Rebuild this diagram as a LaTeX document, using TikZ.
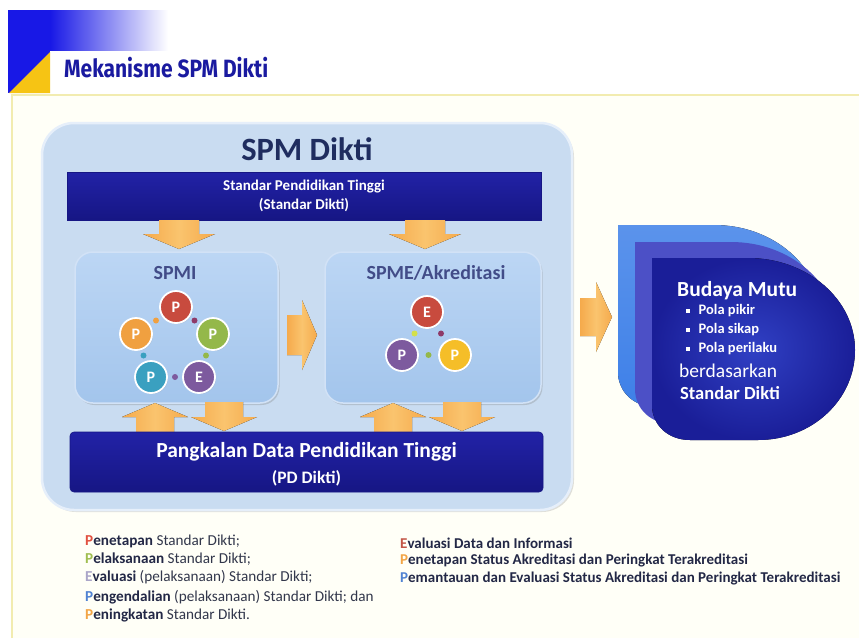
\documentclass[tikz,border=0pt]{standalone}
\usepackage{fontspec}
\setmainfont{Carlito}
\newfontfamily\titlefont{Fira Sans}[FakeStretch=0.84]
\usetikzlibrary{shadows}
\definecolor{hblue}{RGB}{24,24,230}
\definecolor{hyellow}{RGB}{246,196,20}
\definecolor{framey}{RGB}{242,236,176}
\definecolor{cream}{RGB}{255,255,247}
\definecolor{titleblue}{RGB}{26,26,160}
\definecolor{mainfill}{RGB}{201,220,241}
\definecolor{mainedge}{RGB}{230,239,250}
\definecolor{navy}{RGB}{34,34,166}
\definecolor{navydark}{RGB}{22,22,132}
\definecolor{spmtext}{RGB}{31,45,95}
\definecolor{subtext}{RGB}{66,76,136}
\definecolor{innertop}{RGB}{188,214,244}
\definecolor{innerbot}{RGB}{163,197,236}
\definecolor{inneredge}{RGB}{210,226,246}
\definecolor{arrowor}{RGB}{245,170,76}
\definecolor{arrowlt}{RGB}{250,196,110}
\definecolor{cred}{RGB}{200,75,62}
\definecolor{cgreen}{RGB}{148,184,74}
\definecolor{cpurple}{RGB}{125,90,158}
\definecolor{cteal}{RGB}{58,160,192}
\definecolor{corange}{RGB}{240,160,64}
\definecolor{cyellow}{RGB}{245,190,40}
\definecolor{dmag}{RGB}{142,58,104}
\definecolor{dlime}{RGB}{212,224,74}
\definecolor{budout}{RGB}{62,128,232}
\definecolor{budmid}{RGB}{76,80,198}
\definecolor{budin}{RGB}{48,64,196}
\definecolor{budedge}{RGB}{26,30,152}
\definecolor{bodytext}{RGB}{50,55,75}
\definecolor{boldtext}{RGB}{35,40,70}
\definecolor{lred}{RGB}{225,80,64}
\definecolor{lgreen}{RGB}{160,190,80}
\definecolor{lpurple}{RGB}{170,165,200}
\definecolor{lblue}{RGB}{80,130,210}
\definecolor{lorange}{RGB}{242,165,70}
\definecolor{lbrown}{RGB}{195,85,70}

\newcommand{\ArrDown}[6]{\fill[arrowst] (#1-#4,#2) -- (#1+#4,#2) -- (#1+#4,#3-#6) -- (#1+#5,#3-#6) -- (#1,#3) -- (#1-#5,#3-#6) -- (#1-#4,#3-#6) -- cycle;}
\newcommand{\ArrUp}[6]{\fill[arrowst] (#1-#4,#2) -- (#1+#4,#2) -- (#1+#4,#3+#6) -- (#1+#5,#3+#6) -- (#1,#3) -- (#1-#5,#3+#6) -- (#1-#4,#3+#6) -- cycle;}
\newcommand{\ArrRight}[6]{\fill[arrowst] (#2,#1-#4) -- (#3-#6,#1-#4) -- (#3-#6,#1-#5) -- (#3,#1) -- (#3-#6,#1+#5) -- (#3-#6,#1+#4) -- (#2,#1+#4) -- cycle;}
\newcommand{\BudPath}{(652,258) -- (748,258) .. controls (808,258) and (855,300) .. (855,350) .. controls (855,400) and (812,440) .. (758,440) -- (690,440) .. controls (668,440) and (652,425) .. (652,405) -- cycle}

\tikzset{
  arrowst/.style={left color=arrowor, right color=arrowor, middle color=arrowlt},
  mainbox/.style={rounded corners=32pt, fill=mainfill, draw=mainedge, line width=2.5pt,
     drop shadow={opacity=0.25, shadow xshift=2pt, shadow yshift=-2pt}},
  darkbox/.style={top color=navy, bottom color=navydark, draw=navydark, line width=0.6pt},
  innerbox/.style={rounded corners=18pt, top color=innertop, bottom color=innerbot, draw=inneredge, line width=1.5pt,
     drop shadow={opacity=0.3, shadow xshift=1.5pt, shadow yshift=-2pt}},
  pcirc/.style={circle, draw=white, line width=1.8pt, minimum size=32pt, inner sep=0pt, text=white,
     font=\fontsize{16}{16}\selectfont\bfseries,
     drop shadow={opacity=0.2, shadow xshift=1pt, shadow yshift=-1pt}},
  cdot/.style={circle, inner sep=0pt, minimum size=6pt},
  wtext/.style={text=white, font=\bfseries, inner sep=0pt},
  budtext/.style={text=white, anchor=west, inner sep=0pt},
  btext/.style={anchor=west, inner sep=0pt, text=bodytext, font=\fontsize{15.2}{17}\selectfont},
  rtext/.style={anchor=west, inner sep=0pt, text=boldtext, font=\fontsize{15}{17}\selectfont\bfseries},
}

\begin{document}
\begin{tikzpicture}[x=1pt,y=-1pt]
\useasboundingbox (0,0) rectangle (859,638);
\fill[white] (0,0) rectangle (859,638);
\fill[cream] (12,95) rectangle (859,638);
\draw[framey, line width=1.5pt] (12,638) -- (12,95) -- (859,95);

% header
\shade[left color=hblue, right color=white] (50,10) rectangle (168,50);
\fill[hblue] (8,10) rectangle (50,93);
\fill[hyellow] (50,52) -- (50,93) -- (9,93) -- cycle;
\node[anchor=west, text=titleblue, font=\titlefont\bfseries\fontsize{25}{28}\selectfont, inner sep=0pt] (title) at (64,68) {Mekanisme SPM Dikti};

% main box
\node[mainbox, minimum width=530pt, minimum height=387pt] (spm) at (307,316.5) {};
\node[text=spmtext, font=\bfseries\fontsize{32.5}{36}\selectfont, inner sep=0pt] (spmtitle) at (307,149) {SPM Dikti};

% standar box
\node[darkbox, minimum width=474pt, minimum height=48pt] (std) at (304,196) {};
\node[wtext, font=\bfseries\fontsize{15}{17}\selectfont] (std1) at (304,187) {Standar Pendidikan Tinggi};
\node[wtext, font=\bfseries\fontsize{15}{17}\selectfont] (std2) at (304,205) {(Standar Dikti)};

% inner boxes
\node[innerbox, minimum width=203pt, minimum height=151pt] (spmi) at (176.5,327.5) {};
\node[innerbox, minimum width=216pt, minimum height=151pt] (spme) at (433,327.5) {};
\node[text=subtext, font=\bfseries\fontsize{20}{23}\selectfont, inner sep=0pt] (spmilab) at (175,273) {SPMI};
\node[text=subtext, font=\bfseries\fontsize{20}{23}\selectfont, inner sep=0pt] (spmelab) at (436,273) {SPME/Akreditasi};

% arrows from standar
\ArrDown{179}{220}{249}{20}{36}{15}
\ArrDown{425}{220}{249}{20}{36}{15}

% SPMI cycle
\node[pcirc, fill=cred] (p1) at (176,307) {P};
\node[pcirc, fill=cgreen] (p2) at (213,334) {P};
\node[pcirc, fill=cpurple] (p3) at (199,377) {E};
\node[pcirc, fill=cteal] (p4) at (151,377) {P};
\node[pcirc, fill=corange] (p5) at (136,334) {P};
\node[cdot, fill=dmag] (d12) at (194.5,320.5) {};
\node[cdot, fill=cgreen] (d23) at (206,355.5) {};
\node[cdot, fill=cpurple] (d34) at (175,377) {};
\node[cdot, fill=cteal] (d45) at (143.5,355.5) {};
\node[cdot, fill=corange] (d51) at (156,320.5) {};

% SPME cycle
\node[pcirc, fill=cred] (q1) at (427,312) {E};
\node[pcirc, fill=cpurple] (q2) at (402,355) {P};
\node[pcirc, fill=cyellow] (q3) at (455,355) {P};
\node[cdot, fill=dlime] (e12) at (414.5,333.5) {};
\node[cdot, fill=dmag] (e13) at (441,333.5) {};
\node[cdot, fill=cgreen] (e23) at (428.5,355) {};

% arrow between inner boxes
\ArrRight{335}{287}{317}{20}{35}{15}

% bottom arrows
\ArrUp{155}{432}{403}{19}{33}{14}
\ArrDown{224}{402}{431}{19}{33}{14}
\ArrUp{393}{432}{403}{19}{33}{14}
\ArrDown{462}{402}{431}{19}{33}{14}

% PD box
\node[darkbox, rounded corners=4pt, minimum width=473pt, minimum height=60pt] (pd) at (306.5,462) {};
\node[wtext, font=\bfseries\fontsize{21.5}{24}\selectfont] (pd1) at (306.5,452) {Pangkalan Data Pendidikan Tinggi};
\node[wtext, font=\bfseries\fontsize{17.5}{20}\selectfont] (pd2) at (306.5,478) {(PD Dikti)};

% arrow to Budaya Mutu
\ArrRight{317}{580}{612}{19}{35}{16}

% Budaya Mutu shape
\begin{scope}[shift={(-34,-33)}]
  \fill[top color=budout!85!white, bottom color=budout] \BudPath;
\end{scope}
\begin{scope}[shift={(-17,-16)}]
  \fill[budmid] \BudPath;
\end{scope}
\fill[inner color=budin, outer color=budedge] \BudPath;

\node[budtext, font=\bfseries\fontsize{21.5}{24}\selectfont] (bm) at (677,291) {Budaya Mutu};
\node[budtext, font=\bfseries\fontsize{14.5}{16}\selectfont] (bm1) at (686,311) {\raisebox{0.3ex}{\rule{3.5pt}{3.5pt}}\hspace{9pt}Pola pikir};
\node[budtext, font=\bfseries\fontsize{14.5}{16}\selectfont] (bm2) at (686,330) {\raisebox{0.3ex}{\rule{3.5pt}{3.5pt}}\hspace{9pt}Pola sikap};
\node[budtext, font=\bfseries\fontsize{14.5}{16}\selectfont] (bm3) at (686,349) {\raisebox{0.3ex}{\rule{3.5pt}{3.5pt}}\hspace{9pt}Pola perilaku};
\node[budtext, font=\fontsize{19.5}{22}\selectfont] (bm4) at (679,371) {berdasarkan};
\node[budtext, font=\bfseries\fontsize{18.5}{21}\selectfont] (bm5) at (680,393) {Standar Dikti};

% bottom left text
\node[btext] (l1) at (85,541) {\textcolor{lred}{\textbf{P}}\textbf{\color{boldtext}enetapan} Standar Dikti;};
\node[btext] (l2) at (85,559) {\textcolor{lgreen}{\textbf{P}}\textbf{\color{boldtext}elaksanaan} Standar Dikti;};
\node[btext] (l3) at (85,577) {\textcolor{lpurple}{\textbf{E}}\textbf{\color{boldtext}valuasi} (pelaksanaan) Standar Dikti;};
\node[btext] (l4) at (85,597) {\textcolor{lblue}{\textbf{P}}\textbf{\color{boldtext}engendalian} (pelaksanaan) Standar Dikti; dan};
\node[btext] (l5) at (85,615) {\textcolor{lorange}{\textbf{P}}\textbf{\color{boldtext}eningkatan} Standar Dikti.};

% bottom right text
\node[rtext] (r1) at (400,543) {\textcolor{lbrown}{E}valuasi Data dan Informasi};
\node[rtext] (r2) at (400,560) {\textcolor{lorange}{P}enetapan Status Akreditasi dan Peringkat Terakreditasi};
\node[rtext] (r3) at (400,578) {\textcolor{lblue}{P}emantauan dan Evaluasi Status Akreditasi dan Peringkat Terakreditasi};
\end{tikzpicture}
\end{document}
